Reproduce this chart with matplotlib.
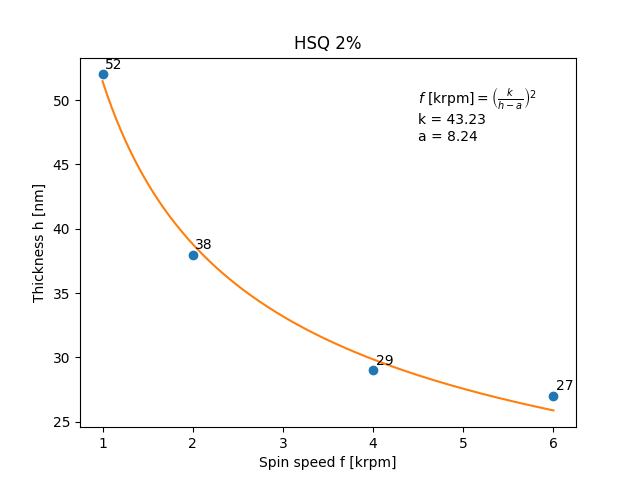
import numpy as np
import matplotlib
matplotlib.use("Agg")
import matplotlib.pyplot as plt

speed = [1, 2, 4, 6]
thickness = [52, 38, 29, 27]
k_fit = 43.23
a_fit = 8.24

fig, ax = plt.subplots(figsize=(6.4, 4.8), dpi=100)
ax.plot(speed, thickness, 'o', color='#1f77b4')
fs = np.linspace(min(speed), max(speed), 200)
ax.plot(fs, a_fit + k_fit / np.sqrt(fs), color='#ff7f0e')
for x, y in zip(speed, thickness):
    ax.text(x + 0.03, y + 0.45, str(y))
ax.text(4.5, 46.85, "$f$ [krpm]$ = \\left(\\frac{k}{h-a}\\right)^2$\nk = %.2f\na = %.2f" % (k_fit, a_fit))
ax.set_title("HSQ 2%")
ax.set_xlabel("Spin speed f [krpm]")
ax.set_ylabel("Thickness h [nm]")
fig.savefig("out.png")
